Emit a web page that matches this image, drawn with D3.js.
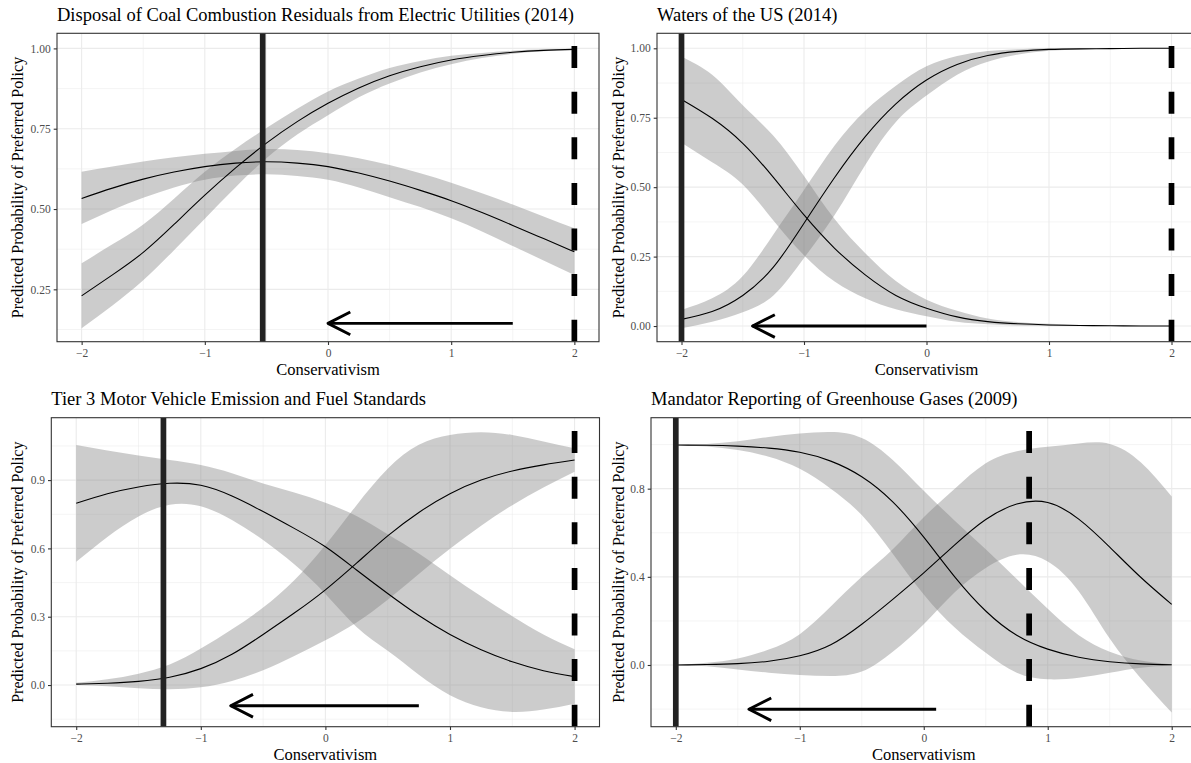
<!DOCTYPE html>
<html>
<head>
<meta charset="utf-8">
<script src="https://cdn.jsdelivr.net/npm/d3@7/dist/d3.min.js"></script>
<style>
  html, body { margin: 0; padding: 0; background: #fff; }
  svg { display: block; }
</style>
</head>
<body>
<svg id="chart" width="1191" height="763"></svg>
<script>
// ---------------- DATA ----------------
const conservativism = [-2,-1.75,-1.5,-1.25,-1,-0.75,-0.5,-0.25,0,0.25,0.5,0.75,1,1.25,1.5,1.75,2];

// Panel 1: Disposal of Coal Combustion Residuals (2014)
const coalRiseFit  = [0.230,0.295,0.365,0.452,0.543,0.628,0.705,0.772,0.829,0.877,0.915,0.943,0.964,0.978,0.988,0.994,0.997];
const coalRiseLo   = [0.129,0.200,0.278,0.372,0.470,0.568,0.658,0.732,0.792,0.848,0.891,0.925,0.951,0.970,0.983,0.991,0.995];
const coalRiseHi   = [0.331,0.390,0.452,0.532,0.616,0.688,0.752,0.812,0.866,0.906,0.939,0.961,0.977,0.986,0.993,0.997,0.999];
const coalHumpFit  = [0.533,0.565,0.593,0.615,0.632,0.643,0.647,0.643,0.632,0.612,0.587,0.558,0.526,0.489,0.449,0.408,0.367];
const coalHumpLo   = [0.453,0.497,0.535,0.567,0.591,0.604,0.608,0.603,0.591,0.567,0.537,0.506,0.471,0.430,0.385,0.340,0.295];
const coalHumpHi   = [0.616,0.632,0.648,0.661,0.672,0.681,0.687,0.684,0.674,0.658,0.637,0.611,0.582,0.549,0.514,0.477,0.440];

// Panel 2: Waters of the US (2014)
const wotusRiseFit = [0.024,0.052,0.110,0.212,0.370,0.535,0.682,0.800,0.886,0.942,0.974,0.989,0.996,0.998,0.999,1.000,1.000];
const wotusRiseLo  = [-0.008,0.015,0.050,0.110,0.245,0.400,0.580,0.735,0.830,0.905,0.952,0.978,0.991,0.996,0.998,0.999,1.000];
const wotusRiseHi  = [0.058,0.100,0.180,0.330,0.490,0.650,0.775,0.865,0.935,0.972,0.990,0.997,1.000,1.000,1.000,1.000,1.000];
const wotusFallFit = [0.816,0.748,0.658,0.535,0.400,0.280,0.184,0.110,0.064,0.033,0.016,0.008,0.004,0.002,0.001,0.000,0.000];
const wotusFallLo  = [0.660,0.590,0.510,0.380,0.255,0.160,0.100,0.060,0.035,0.015,0.006,0.002,0.000,0.000,0.000,0.000,0.000];
const wotusFallHi  = [0.970,0.905,0.795,0.685,0.540,0.385,0.262,0.162,0.095,0.055,0.027,0.014,0.008,0.004,0.002,0.001,0.000];

// Panel 3: Tier 3 Motor Vehicle Emission and Fuel Standards
const tierFallFit  = [0.798,0.840,0.870,0.886,0.877,0.830,0.762,0.688,0.607,0.505,0.402,0.305,0.222,0.155,0.102,0.063,0.037];
const tierFallLo   = [0.541,0.650,0.740,0.792,0.785,0.725,0.637,0.530,0.400,0.255,0.150,0.045,-0.045,-0.098,-0.118,-0.108,-0.082];
const tierFallHi   = [1.054,1.030,1.008,0.988,0.966,0.930,0.885,0.845,0.800,0.742,0.662,0.578,0.482,0.390,0.302,0.222,0.157];
const tierRiseFit  = [0.004,0.008,0.016,0.034,0.072,0.135,0.222,0.316,0.418,0.535,0.655,0.758,0.840,0.900,0.940,0.967,0.988];
const tierRiseLo   = [0.000,-0.005,-0.014,-0.018,-0.010,0.018,0.065,0.128,0.197,0.275,0.375,0.488,0.598,0.700,0.790,0.868,0.937];
const tierRiseHi   = [0.010,0.025,0.050,0.090,0.160,0.245,0.340,0.460,0.615,0.790,0.950,1.055,1.098,1.110,1.098,1.070,1.040];

// Panel 4: Mandator Reporting of Greenhouse Gases (2009)
const ghgFallFit   = [0.998,0.997,0.993,0.984,0.965,0.925,0.854,0.740,0.580,0.400,0.245,0.135,0.072,0.035,0.015,0.005,0.001];
const ghgFallLo    = [0.998,0.991,0.975,0.945,0.890,0.800,0.680,0.505,0.320,0.170,0.055,-0.035,-0.065,-0.058,-0.035,-0.012,-0.002];
const ghgFallHi    = [0.998,1.003,1.015,1.035,1.050,1.057,1.030,0.930,0.790,0.655,0.525,0.390,0.255,0.135,0.060,0.020,0.003];
const ghgRiseFit   = [0.000,0.002,0.006,0.017,0.042,0.092,0.185,0.298,0.418,0.545,0.660,0.730,0.737,0.662,0.535,0.398,0.275];
const ghgRiseLo    = [0.000,-0.006,-0.020,-0.035,-0.045,-0.050,-0.030,0.060,0.185,0.330,0.440,0.500,0.470,0.335,0.120,-0.060,-0.216];
const ghgRiseHi    = [0.000,0.010,0.030,0.070,0.140,0.265,0.400,0.525,0.670,0.800,0.915,0.970,0.990,1.005,1.003,0.920,0.764];

// Titles and tick labels
const panelTitles = [
  "Disposal of Coal Combustion Residuals from Electric Utilities (2014)",
  "Waters of the US (2014)",
  "Tier 3 Motor Vehicle Emission and Fuel Standards",
  "Mandator Reporting of Greenhouse Gases (2009)"
];
const xTicks = [-2,-1,0,1,2];
const xMinorTicks = [-1.5,-0.5,0.5,1.5];
const yTicksP1 = [0.25,0.50,0.75,1.00];
const yTicksP2 = [0.00,0.25,0.50,0.75,1.00];
const yTicksP3 = [0.0,0.3,0.6,0.9];
const yTicksP4 = [0.0,0.4,0.8];
const yMinorP1 = [0.125,0.375,0.625,0.875];
const yMinorP2 = [0.125,0.375,0.625,0.875];
const yMinorP3 = [-0.15,0.15,0.45,0.75,1.05];
const yMinorP4 = [-0.2,0.2,0.6,1.0];

// Reference lines and arrows [from, to, level]
const solidLines  = [-0.53, -2, -1.3, -2];
const dashedLines = [2, 2, 2, 0.85];
const arrows = [[1.5, 0, 0.144], [0, -1.42, 0.0], [0.75, -0.76, -0.091], [0.1, -1.41, -0.201]];

const xLabel = "Conservativism";
const yLabel = "Predicted Probability of Preferred Policy";

// ---------------- LAYOUT ----------------
const FONT = "'Liberation Serif', 'DejaVu Serif', serif";
const svg = d3.select("#chart");
svg.append("rect").attr("width",1191).attr("height",763).attr("fill","#fff");

const panels = [
  { box:{l:57,   r:599,   t:33.3,  b:341.7}, ydom:[0.087,1.047],  yT:yTicksP1, yM:yMinorP1, fmt:d3.format(".2f"), ylabX:22.5,
    series:[[coalHumpFit,coalHumpLo,coalHumpHi],[coalRiseFit,coalRiseLo,coalRiseHi]] },
  { box:{l:657,  r:1196,  t:33.3,  b:341.7}, ydom:[-0.0564,1.054], yT:yTicksP2, yM:yMinorP2, fmt:d3.format(".2f"), ylabX:624,
    series:[[wotusFallFit,wotusFallLo,wotusFallHi],[wotusRiseFit,wotusRiseLo,wotusRiseHi]] },
  { box:{l:51.3, r:599.5, t:417.7, b:726.7}, ydom:[-0.183,1.174], yT:yTicksP3, yM:yMinorP3, fmt:d3.format(".1f"), ylabX:23,
    series:[[tierFallFit,tierFallLo,tierFallHi],[tierRiseFit,tierRiseLo,tierRiseHi]] },
  { box:{l:651,  r:1196.5,t:417.7, b:726.7}, ydom:[-0.280,1.122], yT:yTicksP4, yM:yMinorP4, fmt:d3.format(".1f"), ylabX:624,
    series:[[ghgFallFit,ghgFallLo,ghgFallHi],[ghgRiseFit,ghgRiseLo,ghgRiseHi]] }
];

const minus = s => String(s).replace("-", "\u2212");

panels.forEach((p, i) => {
  const {l, r, t, b} = p.box;
  const x = d3.scaleLinear().domain([-2.2, 2.2]).range([l, r]);
  const y = d3.scaleLinear().domain(p.ydom).range([b, t]);
  const g = svg.append("g");

  const clipId = "clip" + i;
  g.append("clipPath").attr("id", clipId).append("rect")
    .attr("x", l).attr("y", t).attr("width", r - l).attr("height", b - t);
  const plot = g.append("g").attr("clip-path", `url(#${clipId})`);

  // grid (minor, then major)
  plot.selectAll(".gxm").data(xMinorTicks).join("line")
    .attr("x1", d => x(d)).attr("x2", d => x(d)).attr("y1", t).attr("y2", b)
    .attr("stroke", "#ebebeb").attr("stroke-width", 0.55);
  plot.selectAll(".gym").data(p.yM).join("line")
    .attr("y1", d => y(d)).attr("y2", d => y(d)).attr("x1", l).attr("x2", r)
    .attr("stroke", "#ebebeb").attr("stroke-width", 0.55);
  plot.selectAll(".gx").data(xTicks).join("line")
    .attr("x1", d => x(d)).attr("x2", d => x(d)).attr("y1", t).attr("y2", b)
    .attr("stroke", "#ebebeb").attr("stroke-width", 1.1);
  plot.selectAll(".gy").data(p.yT).join("line")
    .attr("y1", d => y(d)).attr("y2", d => y(d)).attr("x1", l).attr("x2", r)
    .attr("stroke", "#ebebeb").attr("stroke-width", 1.1);

  // ribbons and fitted lines
  const area = d3.area().x(d => x(d.x)).y0(d => y(d.lo)).y1(d => y(d.hi)).curve(d3.curveNatural);
  const line = d3.line().x(d => x(d.x)).y(d => y(d.v)).curve(d3.curveNatural);
  p.series.forEach(([fit, lo, hi]) => {
    const rows = conservativism.map((cx, k) => ({x: cx, lo: lo[k], hi: hi[k]}));
    plot.append("path").datum(rows).attr("d", area)
      .attr("fill", "#808080").attr("fill-opacity", 0.4);
  });
  p.series.forEach(([fit]) => {
    const rows = conservativism.map((cx, k) => ({x: cx, v: fit[k]}));
    plot.append("path").datum(rows).attr("d", line)
      .attr("fill", "none").attr("stroke", "#000").attr("stroke-width", 1.1);
  });

  // reference lines
  plot.append("line")
    .attr("x1", x(solidLines[i])).attr("x2", x(solidLines[i])).attr("y1", b).attr("y2", t)
    .attr("stroke", "#222").attr("stroke-width", 5.7);
  plot.append("line")
    .attr("x1", x(dashedLines[i])).attr("x2", x(dashedLines[i])).attr("y1", b).attr("y2", t)
    .attr("stroke", "#000").attr("stroke-width", 5.7).attr("stroke-dasharray", "22 23.6");

  // arrow
  const [a0, a1, ay] = arrows[i];
  const x0 = x(a0), x1 = x(a1), yy = y(ay);
  const dir = Math.sign(x1 - x0) || -1;
  const L = 25, ang = 27 * Math.PI / 180;
  plot.append("line").attr("x1", x0).attr("x2", x1).attr("y1", yy).attr("y2", yy)
    .attr("stroke", "#000").attr("stroke-width", 2.9);
  plot.append("path")
    .attr("d", `M${x1 - dir * L * Math.cos(ang)},${yy - L * Math.sin(ang)} L${x1},${yy} L${x1 - dir * L * Math.cos(ang)},${yy + L * Math.sin(ang)}`)
    .attr("fill", "none").attr("stroke", "#000").attr("stroke-width", 2.9)
    .attr("stroke-linejoin", "round");

  // panel border
  g.append("rect").attr("x", l).attr("y", t).attr("width", r - l).attr("height", b - t)
    .attr("fill", "none").attr("stroke", "#333").attr("stroke-width", 1.1);

  // axes
  const xAxis = d3.axisBottom(x).tickValues(xTicks).tickSize(3.3).tickPadding(3.5)
    .tickFormat(d => minus(d));
  const yAxis = d3.axisLeft(y).tickValues(p.yT).tickSize(3.3).tickPadding(3)
    .tickFormat(d => minus(p.fmt(d)));
  const gx = g.append("g").attr("transform", `translate(0,${b})`).call(xAxis);
  const gy = g.append("g").attr("transform", `translate(${l},0)`).call(yAxis);
  [gx, gy].forEach(ax => {
    ax.select(".domain").remove();
    ax.selectAll(".tick line").attr("stroke", "#333").attr("stroke-width", 1.1);
    ax.selectAll(".tick text").attr("fill", "#4d4d4d")
      .style("font-family", FONT).style("font-size", "11.5px");
  });

  // titles
  g.append("text").attr("x", l).attr("y", t - 12.5)
    .attr("fill", "#000").style("font-family", FONT).style("font-size", "18.5px")
    .text(panelTitles[i]);
  g.append("text").attr("x", (l + r) / 2).attr("y", b + 33.5)
    .attr("text-anchor", "middle").attr("fill", "#000")
    .style("font-family", FONT).style("font-size", "16.5px").text(xLabel);
  g.append("text")
    .attr("transform", `translate(${p.ylabX},${(t + b) / 2}) rotate(-90)`)
    .attr("text-anchor", "middle").attr("fill", "#000")
    .style("font-family", FONT).style("font-size", "16px").text(yLabel);
});
</script>
</body>
</html>
